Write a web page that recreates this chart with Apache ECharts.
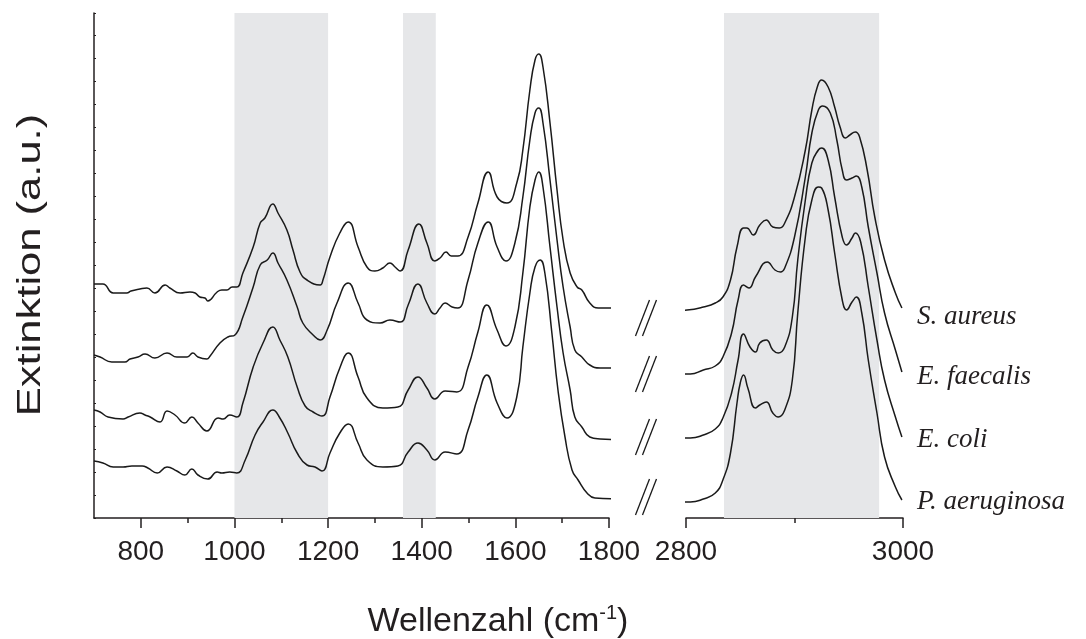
<!DOCTYPE html>
<html>
<head>
<meta charset="utf-8">
<script src="https://cdn.jsdelivr.net/npm/echarts@6/dist/echarts.min.js"></script>
<style>
html,body{margin:0;padding:0;background:#fff;}
#chart{width:1086px;height:639px;}
</style>
</head>
<body>
<div id="chart"></div>
<script>
// Wavenumber (cm^-1) vs. extinction (a.u., stacked, arbitrary offsets)
const sAureusLow = [[700,234],[719,234],[741,225],[770,225],[779,227],[798,229],[813,230],[830,225],[852,233],[862,230],[884,225],[905,226],[916,225],[926,221],[937,220],[943,217],[963,226],[973,228],[984,228],[995,231],[1005,231],[1018,245],[1040,271],[1055,295],[1065,300],[1082,314],[1093,305],[1112,288],[1125,268],[1140,246],[1155,238],[1183,233],[1189,238],[1204,261],[1225,285],[1243,296],[1264,271],[1283,251],[1300,247],[1317,250],[1332,255],[1343,251],[1354,247],[1371,268],[1394,294],[1411,275],[1428,257],[1439,260],[1452,266],[1463,262],[1477,262],[1499,281],[1520,315],[1542,346],[1561,321],[1582,315],[1603,335],[1616,368],[1631,428],[1642,458],[1650,464],[1659,451],[1674,395],[1689,328],[1702,278],[1717,245],[1732,231],[1742,228],[1759,215],[1777,210],[1809,210],[1845,209]];
const sAureusHigh = [[2782.5,207],[2801,208],[2816,211],[2827,215],[2834,221],[2841,238],[2847,271],[2853,290],[2856,290],[2862,283],[2868,293],[2874,298],[2880,291],[2886,290],[2891,295],[2900,321],[2910,368],[2916,408],[2921,431],[2925,438],[2931,431],[2937,411],[2942,391],[2947,380],[2951,383],[2956,386],[2960,381],[2967,348],[2974,301],[2983,258],[2993,225],[2999,210]];

const eFaecalisLow = [[700,163],[713,161],[738,156],[766,156],[777,159],[794,161],[809,164],[830,160],[856,165],[877,161],[899,161],[911,165],[922,161],[941,159],[948,162],[969,175],[986,181],[1001,183],[1018,201],[1040,231],[1055,253],[1070,258],[1082,265],[1093,255],[1112,238],[1134,211],[1146,195],[1168,183],[1183,178],[1198,188],[1219,215],[1243,235],[1264,215],[1283,198],[1311,195],[1332,198],[1354,196],[1371,213],[1392,234],[1411,215],[1428,204],[1439,210],[1450,215],[1465,211],[1477,210],[1499,238],[1520,275],[1542,296],[1561,271],[1580,257],[1599,275],[1616,321],[1631,378],[1642,405],[1650,410],[1659,395],[1674,338],[1689,278],[1702,231],[1717,191],[1727,168],[1742,161],[1759,153],[1781,150],[1845,150]];
const eFaecalisHigh = [[2782.5,144],[2804,144],[2816,148],[2827,152],[2834,161],[2842,185],[2848,218],[2853,233],[2858,230],[2864,241],[2875,256],[2882,248],[2887,246],[2891,250],[2900,281],[2910,341],[2916,385],[2922,408],[2926,412],[2933,405],[2939,378],[2944,348],[2948,338],[2953,340],[2957,342],[2962,331],[2968,291],[2976,245],[2983,205],[2993,168],[2999,146]];

const eColiLow = [[700,108],[713,106],[730,101],[762,99],[773,101],[798,105],[809,103],[820,101],[841,96],[856,107],[873,103],[894,95],[909,101],[922,95],[941,87],[965,100],[976,99],[990,103],[1005,101],[1018,115],[1040,151],[1061,175],[1082,191],[1097,178],[1114,161],[1134,131],[1151,112],[1168,106],[1187,102],[1204,121],[1225,150],[1243,165],[1264,141],[1283,120],[1317,110],[1349,111],[1371,128],[1392,141],[1411,130],[1428,119],[1450,127],[1475,126],[1499,151],[1520,186],[1539,213],[1561,188],[1580,172],[1599,191],[1616,245],[1631,311],[1642,338],[1650,346],[1659,331],[1674,271],[1689,211],[1702,165],[1717,128],[1727,101],[1742,91],[1759,81],[1781,79],[1845,78]];
const eColiHigh = [[2782.5,80],[2804,80],[2816,83],[2827,89],[2834,100],[2842,125],[2848,158],[2853,184],[2859,171],[2864,166],[2868,175],[2874,178],[2880,168],[2885,165],[2891,171],[2898,201],[2903,258],[2910,318],[2916,355],[2922,368],[2925,370],[2931,358],[2937,321],[2944,281],[2948,273],[2953,280],[2956,285],[2961,276],[2968,231],[2976,178],[2983,138],[2993,101],[2999,81]];

const pAeruginosaLow = [[700,57],[719,55],[741,51],[762,51],[781,52],[803,52],[815,50],[835,45],[856,51],[877,47],[894,43],[909,49],[922,43],[943,39],[963,46],[973,45],[990,46],[1005,45],[1023,58],[1044,83],[1061,96],[1082,108],[1097,100],[1114,85],[1134,65],[1155,53],[1172,51],[1187,47],[1204,65],[1225,85],[1243,94],[1264,75],[1283,58],[1317,51],[1349,52],[1371,66],[1392,75],[1411,68],[1428,58],[1450,66],[1475,64],[1499,88],[1520,121],[1539,143],[1561,115],[1582,100],[1603,121],[1616,171],[1631,225],[1642,251],[1653,258],[1663,245],[1678,185],[1691,128],[1706,81],[1721,48],[1734,38],[1753,25],[1770,20],[1845,19]];
const pAeruginosaHigh = [[2782.5,16],[2804,16],[2816,19],[2827,25],[2834,38],[2841,65],[2847,115],[2850,135],[2853,143],[2857,130],[2864,110],[2868,113],[2874,116],[2880,105],[2885,101],[2891,108],[2898,138],[2903,205],[2910,281],[2916,318],[2922,331],[2925,330],[2931,308],[2937,265],[2944,218],[2948,208],[2953,216],[2957,221],[2962,205],[2968,158],[2976,105],[2983,61],[2993,31],[2999,18]];

const speciesNames = ['S. aureus','E. faecalis','E. coli','P. aeruginosa'];
const lowSeries = [sAureusLow, eFaecalisLow, eColiLow, pAeruginosaLow];
const highSeries = [sAureusHigh, eFaecalisHigh, eColiHigh, pAeruginosaHigh];

const lowBands = [[1000,1200],[1360,1430]];
const highBands = [[2835,2978]];
const lowMajorTicks = [800,1000,1200,1400,1600,1800];
const lowMinorTicks = [900,1100,1300,1500,1700];
const highMajorTicks = [2800,3000];
const highMinorTicks = [2900];
const breakMarks = [[1879,200],[1879,144],[1879,81],[1879,21]];

const INK = '#231f20';
const FONT = 'Liberation Sans, Arial, sans-serif';
const labelOffsets = [[0,9],[0,5],[0,3],[0,2]];

const chart = echarts.init(document.getElementById('chart'), null, {renderer:'canvas'});

const lineCommon = {showSymbol:false, symbol:'none', smooth:0.5, z:3, clip:false,
  lineStyle:{color:'#1a1a1a', width:1.5}};

const series = [];
series.push({type:'line', xAxisIndex:0, yAxisIndex:0, data:[], silent:true, z:0,
  markArea:{silent:true, itemStyle:{color:'#e6e7e9'}, data: lowBands.map(b=>[{xAxis:b[0]},{xAxis:b[1]}])}});
series.push({type:'line', xAxisIndex:1, yAxisIndex:1, data:[], silent:true, z:0,
  markArea:{silent:true, itemStyle:{color:'#e6e7e9'}, data: highBands.map(b=>[{xAxis:b[0]},{xAxis:b[1]}])}});
lowSeries.forEach((d,i)=>{
  series.push(Object.assign({type:'line', name:speciesNames[i], xAxisIndex:0, yAxisIndex:0, data:d}, lineCommon));
});
highSeries.forEach((d,i)=>{
  series.push(Object.assign({type:'line', name:speciesNames[i], xAxisIndex:1, yAxisIndex:1, data:d,
    endLabel:{show:true, formatter:'{a}', distance:15, offset:labelOffsets[i],
      fontFamily:'Liberation Serif, Times New Roman, serif', fontStyle:'italic', fontSize:27, color:INK}}, lineCommon));
});
series.push({type:'custom', xAxisIndex:0, yAxisIndex:0, clip:false, silent:true, z:3,
  data: breakMarks,
  renderItem:function(params, api){
    const p = api.coord([api.value(0), api.value(1)]);
    const st = {stroke:'#1a1a1a', lineWidth:1.3, fill:null};
    return {type:'group', children:[
      {type:'line', shape:{x1:p[0]-10.5, y1:p[1]+18, x2:p[0]+3.5, y2:p[1]-18}, style:st},
      {type:'line', shape:{x1:p[0]-3.5, y1:p[1]+18, x2:p[0]+10.5, y2:p[1]-18}, style:st}
    ]};
  }});

const plainNum = v => String(v);
const labelStyle = {color:INK, fontSize:28, fontFamily:FONT, margin:20, formatter:plainNum};

const option = {
  animation:false,
  backgroundColor:'#ffffff',
  grid:[
    {left:94, top:13, width:515, height:505},
    {left:686, top:13, width:217, height:505}
  ],
  xAxis:[
    {type:'value', gridIndex:0, position:'bottom', min:700, max:1800, splitLine:{show:false},
      axisLine:{show:true, lineStyle:{color:INK, width:1.5}},
      axisTick:{show:true, length:10, lineStyle:{color:INK, width:1.5}, customValues:lowMajorTicks},
      axisLabel:Object.assign({customValues:lowMajorTicks}, labelStyle)},
    {type:'value', gridIndex:1, position:'bottom', min:2800, max:3000, splitLine:{show:false},
      axisLine:{show:true, lineStyle:{color:INK, width:1.5}},
      axisTick:{show:true, length:10, lineStyle:{color:INK, width:1.5}, customValues:highMajorTicks},
      axisLabel:Object.assign({customValues:highMajorTicks}, labelStyle)},
    {type:'value', gridIndex:0, position:'bottom', offset:0, min:700, max:1800, splitLine:{show:false},
      axisLine:{show:false}, axisLabel:{show:false},
      axisTick:{show:true, length:5, lineStyle:{color:INK, width:1.5}, customValues:lowMinorTicks}},
    {type:'value', gridIndex:1, position:'bottom', offset:0, min:2800, max:3000, splitLine:{show:false},
      axisLine:{show:false}, axisLabel:{show:false},
      axisTick:{show:true, length:5, lineStyle:{color:INK, width:1.5}, customValues:highMinorTicks}}
  ],
  yAxis:[
    {type:'value', gridIndex:0, min:0, max:505, interval:23, splitLine:{show:false},
      axisLine:{show:true, lineStyle:{color:INK, width:1.5}},
      axisTick:{show:true, inside:true, length:2, lineStyle:{color:INK, width:1}},
      axisLabel:{show:false}},
    {type:'value', gridIndex:1, min:0, max:505, show:false}
  ],
  series: series,
  graphic:[
    {type:'text', x:498, y:622, silent:true, style:{
      text:'{a|Wellenzahl (cm}{s|-1}{a|)}', align:'center', verticalAlign:'middle',
      rich:{a:{fontSize:34, fontFamily:FONT, fill:INK, lineHeight:38},
            s:{fontSize:20, fontFamily:FONT, fill:INK, verticalAlign:'top', lineHeight:38}}}},
    {type:'text', x:31, y:265, rotation:Math.PI/2, scaleX:1.28, silent:true, style:{
      text:'Extinktion (a.u.)', align:'center', verticalAlign:'middle',
      fontSize:34, fontFamily:FONT, fill:INK}}
  ]
};
chart.setOption(option);
</script>
</body>
</html>
